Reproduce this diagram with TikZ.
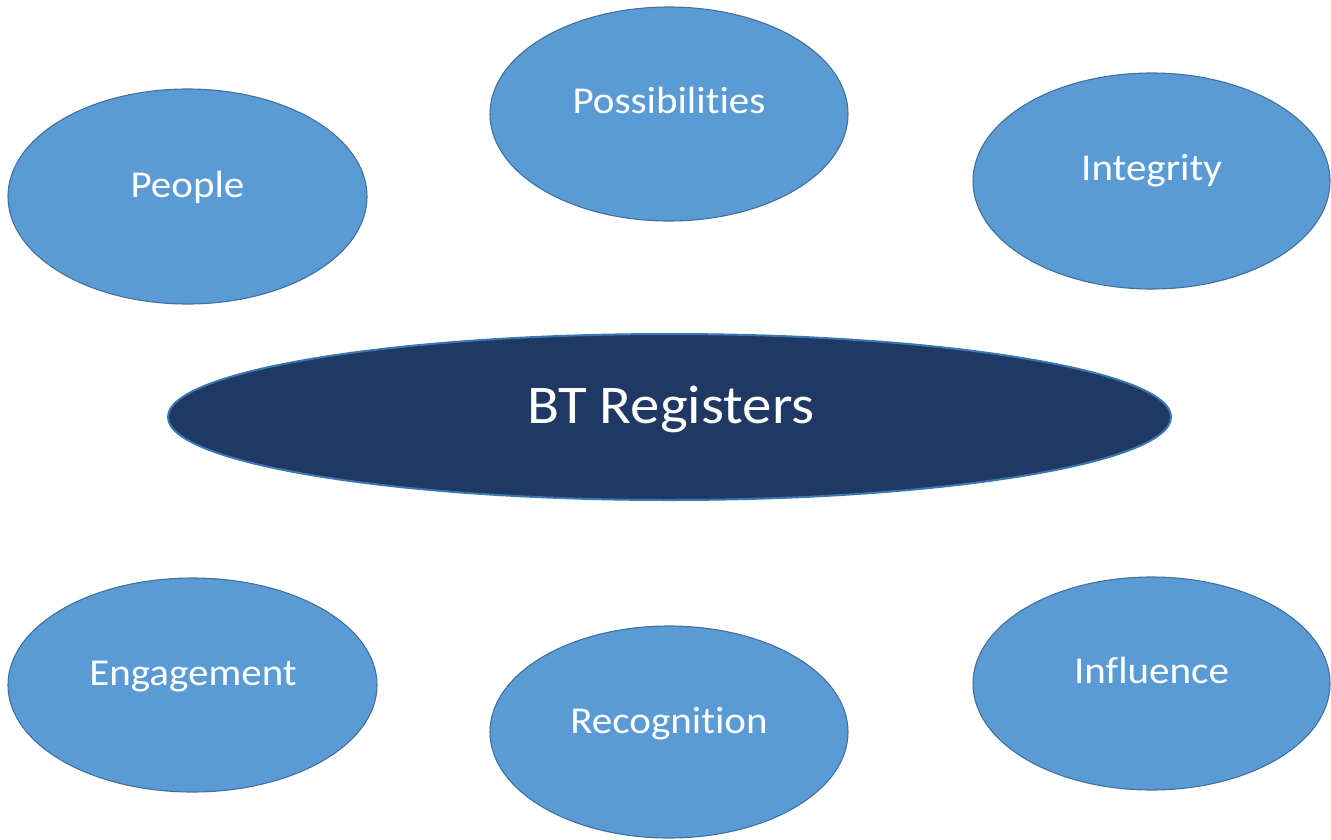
\documentclass[tikz,border=0pt]{standalone}
\usepackage{fontspec}
\setmainfont{Carlito}[FakeStretch=1.08,Ligatures=NoCommon]
\usetikzlibrary{shapes.geometric}
\definecolor{lightfill}{HTML}{5B9BD5}
\definecolor{lightedge}{HTML}{41719C}
\definecolor{darkfill}{HTML}{203864}
\definecolor{darkedge}{HTML}{3A78B0}
\tikzset{
  bubble/.style={ellipse, fill=lightfill, draw=lightedge, line width=1.1pt, inner sep=0pt},
  core/.style={ellipse, fill=darkfill, draw=darkedge, line width=2pt, inner sep=0pt},
  smalltext/.style={anchor=base, text=white, inner sep=0pt, font=\fontsize{38}{44}\selectfont},
  bigtext/.style={anchor=base, text=white, inner sep=0pt, font=\fontsize{54.5}{60}\selectfont}
}
\begin{document}
\begin{tikzpicture}[x=1pt,y=-1pt]
\useasboundingbox (0,0) rectangle (1331,839);
\node[bubble, minimum width=359pt, minimum height=215pt] (people) at (187.5,196.5) {};
\node[bubble, minimum width=358pt, minimum height=214pt] (poss) at (669,114) {};
\node[bubble, minimum width=357pt, minimum height=216pt] (integ) at (1151.5,181) {};
\node[core, minimum width=1003pt, minimum height=166pt] (bt) at (669.5,417) {};
\node[bubble, minimum width=369pt, minimum height=214pt] (engage) at (192.5,685) {};
\node[bubble, minimum width=358pt, minimum height=212pt] (recog) at (669,732) {};
\node[bubble, minimum width=357pt, minimum height=213pt] (influ) at (1151.5,683.5) {};
\node[smalltext] (peopleT) at (187.5,197) {People};
\node[smalltext] (possT) at (669,113) {Possibilities};
\node[smalltext] (integT) at (1151.5,180) {Integrity};
\node[bigtext] (btT) at (671,423) {BT Registers};
\node[smalltext] (engageT) at (193,685) {Engagement};
\node[smalltext] (recogT) at (669,733) {Recognition};
\node[smalltext] (influT) at (1151.5,683) {Influence};
\end{tikzpicture}
\end{document}
